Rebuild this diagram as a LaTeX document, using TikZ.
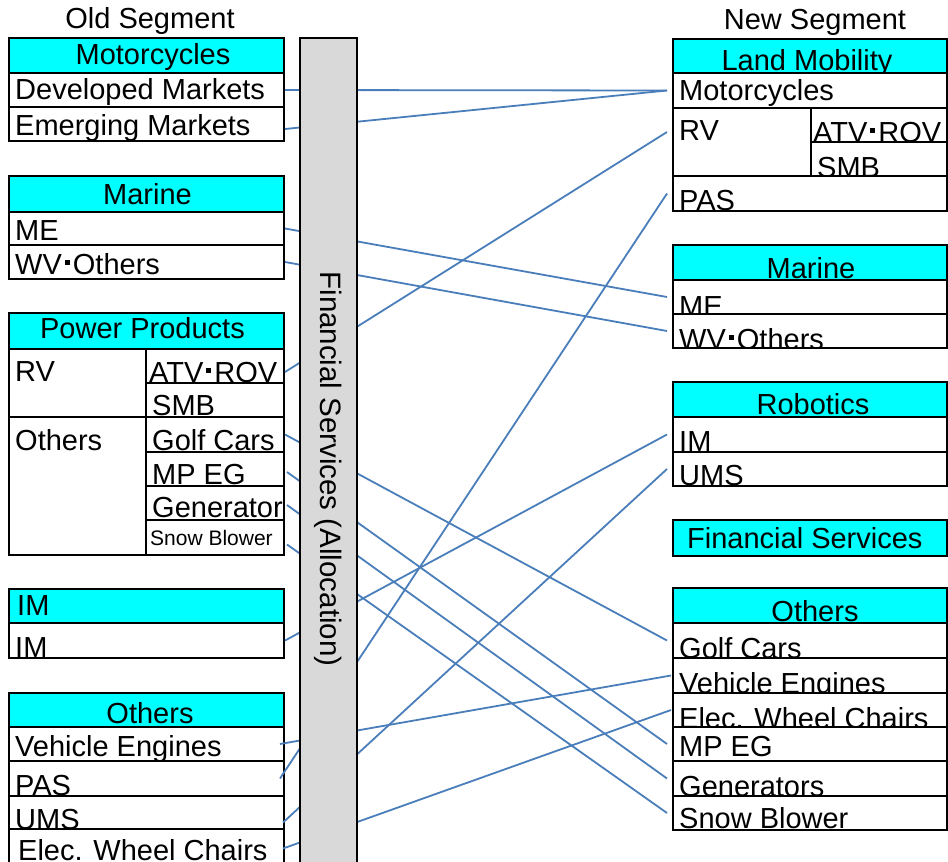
\documentclass[tikz,border=0pt]{standalone}
\usepackage{fontspec}
\setmainfont{Liberation Sans}
\definecolor{cyanhd}{HTML}{00FFFF}
\definecolor{barg}{HTML}{D9D9D9}
\definecolor{linkblue}{HTML}{4A7EBB}
\newcommand{\mdot}{\kern3pt\raisebox{9pt}{\rule{5pt}{5pt}}\kern3pt}
\newcommand{\mkcell}[9]{%
  \node[#1, minimum width={#5-#3}, minimum height={#6-#4}, anchor=north west] (#2) at (#3,#4) {};
  \begin{scope}
    \clip (#3,#4) rectangle (#5,#6);
    \node[txt, #7] (#2-t) at (#8) {#9};
  \end{scope}}
\tikzset{
  cellbox/.style={draw=black, line width=2.2pt, fill=white, inner sep=0pt, outer sep=0pt},
  hdr/.style={cellbox, fill=cyanhd},
  txt/.style={inner sep=0pt, font=\fontsize{29}{34}\selectfont},
  link/.style={draw=linkblue, line width=1.8pt},
}
\begin{document}
\begin{tikzpicture}[x=1pt,y=-1pt]
\useasboundingbox (0,0) rectangle (948,862);
\fill[white] (0,0) rectangle (948,862);
% titles
\node[txt, anchor=base] (oldseg) at (150,28) {Old Segment};
\node[txt, anchor=base] (newseg) at (815,29) {New Segment};
% left column
\mkcell{hdr}{lmoto}{9}{38}{284}{73}{anchor=base}{153,64}{Motorcycles}
\mkcell{cellbox}{ldev}{9}{73}{284}{107}{anchor=base west}{15,99}{Developed Markets}
\mkcell{cellbox}{lemg}{9}{107}{284}{141}{anchor=base west}{15,135}{Emerging Markets}
\mkcell{hdr}{lmar}{9}{176}{284}{212}{anchor=base}{147.5,204}{Marine}
\mkcell{cellbox}{lme}{9}{212}{284}{245}{anchor=base west}{15,240}{ME}
\mkcell{cellbox}{lwv}{9}{245}{284}{279}{anchor=base west}{15,274}{WV\mdot Others}
\mkcell{hdr}{lpp}{9}{313}{284}{349}{anchor=base}{142.5,338}{Power Products}
\mkcell{cellbox}{lrv}{9}{349}{146}{417}{anchor=base west}{15,381}{RV}
\mkcell{cellbox}{latv}{146}{349}{284}{383}{anchor=base west}{149,382}{ATV\mdot ROV}
\mkcell{cellbox}{lsmb}{146}{383}{284}{417}{anchor=base west}{152,415}{SMB}
\mkcell{cellbox}{loth}{9}{417}{146}{555}{anchor=base west}{15,450}{Others}
\mkcell{cellbox}{lgolf}{146}{417}{284}{452}{anchor=base west}{152,450}{Golf Cars}
\mkcell{cellbox}{lmpeg}{146}{452}{284}{486}{anchor=base west}{152,484}{MP EG}
\mkcell{cellbox}{lgen}{146}{486}{284}{520}{anchor=base west}{152,517}{Generator}
\mkcell{cellbox}{lsnow}{146}{520}{284}{555}{anchor=base west}{150,545}{\fontsize{21}{24}\selectfont Snow Blower}
\mkcell{hdr}{limh}{9}{589}{284}{623}{anchor=base west}{17,615}{IM}
\mkcell{cellbox}{lim}{9}{623}{284}{658}{anchor=base west}{15,657}{IM}
\mkcell{hdr}{loh}{9}{693}{284}{727}{anchor=base}{150,723}{Others}
\mkcell{cellbox}{lveh}{9}{727}{284}{761}{anchor=base west}{15,756}{Vehicle Engines}
\mkcell{cellbox}{lpas}{9}{761}{284}{796}{anchor=base west}{15,795}{PAS}
\mkcell{cellbox}{lums}{9}{796}{284}{829}{anchor=base west}{15,829}{UMS}
\mkcell{cellbox}{lewc}{9}{829}{284}{868}{anchor=base west}{18,860}{Elec. Wheel Chairs}
% right column
\mkcell{hdr}{rlm}{673}{39}{947}{73}{anchor=base}{807,70}{Land Mobility}
\mkcell{cellbox}{rmoto}{673}{73}{947}{108}{anchor=base west}{679,100}{Motorcycles}
\mkcell{cellbox}{rrv}{673}{108}{811}{176}{anchor=base west}{679,140}{RV}
\mkcell{cellbox}{ratv}{811}{108}{947}{142}{anchor=base west}{813,142}{ATV\mdot ROV}
\mkcell{cellbox}{rsmb}{811}{142}{947}{176}{anchor=base west}{817,177}{SMB}
\mkcell{cellbox}{rpas}{673}{176}{947}{211}{anchor=base west}{679,210}{PAS}
\mkcell{hdr}{rmar}{673}{245}{947}{280}{anchor=base}{811,278}{Marine}
\mkcell{cellbox}{rme}{673}{280}{947}{314}{anchor=base west}{679,316}{ME}
\mkcell{cellbox}{rwv}{673}{314}{947}{348}{anchor=base west}{679,349}{WV\mdot Others}
\mkcell{hdr}{rrob}{673}{382}{947}{417}{anchor=base}{813,414}{Robotics}
\mkcell{cellbox}{rim}{673}{417}{947}{452}{anchor=base west}{679,451}{IM}
\mkcell{cellbox}{rums}{673}{452}{947}{486}{anchor=base west}{679,485}{UMS}
\mkcell{hdr}{rfs}{673}{520}{947}{556}{anchor=base west}{687,548}{Financial Services}
\mkcell{hdr}{roh}{673}{588}{947}{623}{anchor=base}{815,621}{Others}
\mkcell{cellbox}{rgolf}{673}{623}{947}{658}{anchor=base west}{679,658}{Golf Cars}
\mkcell{cellbox}{rveh}{673}{658}{947}{693}{anchor=base west}{679,693}{Vehicle Engines}
\mkcell{cellbox}{rewc}{673}{693}{947}{727}{anchor=base west}{679,728}{Elec. Wheel Chairs}
\mkcell{cellbox}{rmpeg}{673}{727}{947}{761}{anchor=base west}{679,756}{MP EG}
\mkcell{cellbox}{rgen}{673}{761}{947}{796}{anchor=base west}{679,796}{Generators}
\mkcell{cellbox}{rsnow}{673}{796}{947}{830}{anchor=base west}{679,828}{Snow Blower}
% connectors
\draw[link] ([xshift=1pt]ldev.east) -- ([xshift=-6pt]rmoto.west);
\draw[link] ([xshift=1pt,yshift=-5pt]lemg.east) -- ([xshift=-6pt]rmoto.west);
\draw[link] ([xshift=1pt]lme.east) -- ([xshift=-6pt]rme.west);
\draw[link] ([xshift=1pt]lwv.east) -- ([xshift=-6pt]rwv.west);
\draw[link] ([xshift=1pt,yshift=-6pt]latv.east) -- ([xshift=-6pt,yshift=10pt]rrv.west);
\draw[link] ([xshift=1pt]lgolf.east) -- ([xshift=-6pt]rgolf.west);
\draw[link] ([xshift=3pt,yshift=-3pt]lmpeg.east) -- ([xshift=-6pt]rmpeg.west);
\draw[link] ([xshift=3pt,yshift=-2pt]lgen.east) -- ([xshift=-6pt]rgen.west);
\draw[link] ([xshift=3pt,yshift=-7pt]lsnow.east) -- ([xshift=-6pt]rsnow.west);
\draw[link] ([xshift=1pt]lim.east) -- ([xshift=-6pt]rim.west);
\draw[link] ([xshift=-4pt]lveh.east) -- ([xshift=-2pt]rveh.west);
\draw[link] ([xshift=-4pt]lpas.east) -- ([xshift=-6pt]rpas.west);
\draw[link] ([xshift=-1pt,yshift=-10pt]lums.east) -- ([xshift=-6pt]rums.west);
\draw[link] ([xshift=-1pt]lewc.east) -- ([xshift=-2pt]rewc.west);
% financial services bar
\node[draw=black, line width=2pt, fill=barg, inner sep=0pt, rotate=-90,
      minimum width=862, minimum height=57, font=\fontsize{29.5}{34}\selectfont]
      (fs) at (328.5,469) {Financial Services (Allocation)};
\end{tikzpicture}
\end{document}
